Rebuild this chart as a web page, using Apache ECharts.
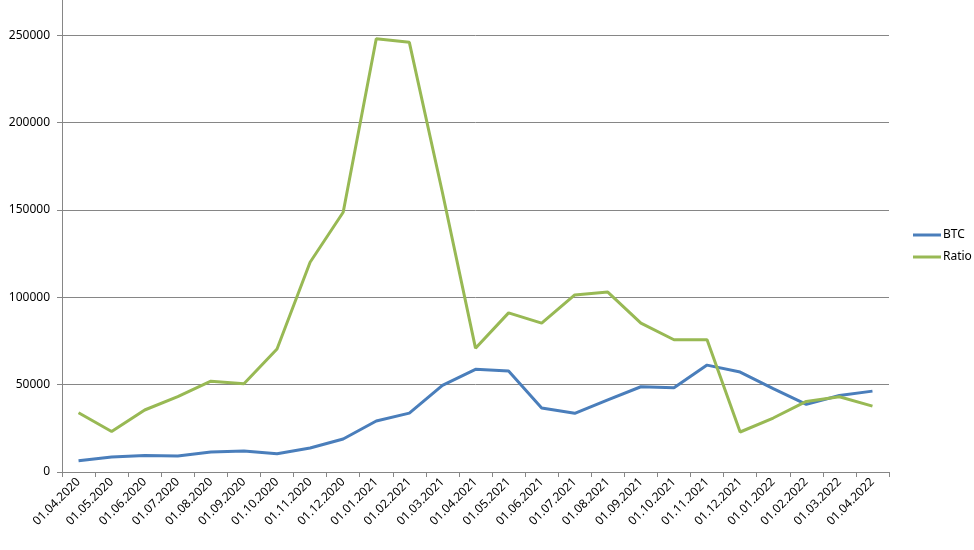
<!DOCTYPE html>
<html>
<head>
<meta charset="utf-8">
<script src="https://cdn.jsdelivr.net/npm/echarts@6/dist/echarts.min.js"></script>
<style>
  html, body { margin: 0; padding: 0; background: #fff; }
  #main { width: 974px; height: 550px; }
</style>
</head>
<body>
<div id="main"></div>
<script>
// dates on the x axis
var dates = ['01.04.2020', '01.05.2020', '01.06.2020', '01.07.2020', '01.08.2020', '01.09.2020',
  '01.10.2020', '01.11.2020', '01.12.2020', '01.01.2021', '01.02.2021', '01.03.2021',
  '01.04.2021', '01.05.2021', '01.06.2021', '01.07.2021', '01.08.2021', '01.09.2021',
  '01.10.2021', '01.11.2021', '01.12.2021', '01.01.2022', '01.02.2022', '01.03.2022',
  '01.04.2022'];

var btc = [6500, 8600, 9500, 9200, 11400, 12000, 10500, 13700, 18900, 29200, 33700, 49600,
  58800, 57800, 36600, 33600, 41300, 48800, 48200, 61200, 57200, 47700, 38700, 43800,
  46300];

var ratio = [33900, 23200, 35500, 43200, 52000, 50500, 70400, 120100, 148700, 248000, 246000, 160000,
  70900, 91100, 85200, 101400, 103000, 85200, 75700, 75700, 22900, 30900, 40400, 43100,
  37700];

var chart = echarts.init(document.getElementById('main'), null, { renderer: 'canvas' });

var font = 'Noto Sans';

var option = {
  animation: false,
  backgroundColor: '#fff',
  textStyle: { fontFamily: font },
  legend: {
    orient: 'vertical',
    left: 908,
    top: 224,
    itemWidth: 28,
    itemHeight: 3,
    itemGap: 10,
    icon: 'rect',
    textStyle: { fontSize: 12, color: '#000', fontFamily: font, padding: [0, 0, 0, -3] },
    data: ['BTC', 'Ratio']
  },
  grid: {
    left: 62,
    right: 85,
    top: -52,
    bottom: 78,
    containLabel: false,
    outerBoundsMode: 'none'
  },
  xAxis: {
    type: 'category',
    data: dates,
    boundaryGap: true,
    axisLine: { lineStyle: { color: '#868686', width: 1 } },
    axisTick: { show: true, length: 5, lineStyle: { color: '#868686' } },
    axisLabel: {
      rotate: 45,
      interval: 0,
      fontSize: 12,
      color: '#000',
      margin: 8,
      fontFamily: font
    },
    splitLine: { show: false }
  },
  yAxis: {
    type: 'value',
    min: 0,
    max: 300000,
    interval: 50000,
    axisLine: { show: true, lineStyle: { color: '#868686', width: 1 } },
    axisTick: { show: true, length: 5, lineStyle: { color: '#868686' } },
    axisLabel: {
      fontSize: 12,
      color: '#000',
      margin: 12,
      fontFamily: font,
      formatter: function (v) { return String(v); }
    },
    splitLine: { show: true, lineStyle: { color: '#868686', width: 1 } }
  },
  series: [
    {
      name: 'BTC',
      type: 'line',
      data: btc,
      symbol: 'none',
      lineStyle: { color: '#4A7EBB', width: 3 },
      itemStyle: { color: '#4A7EBB' }
    },
    {
      name: 'Ratio',
      type: 'line',
      data: ratio,
      symbol: 'none',
      lineStyle: { color: '#98B954', width: 3 },
      itemStyle: { color: '#98B954' }
    }
  ]
};

chart.setOption(option);
</script>
</body>
</html>
